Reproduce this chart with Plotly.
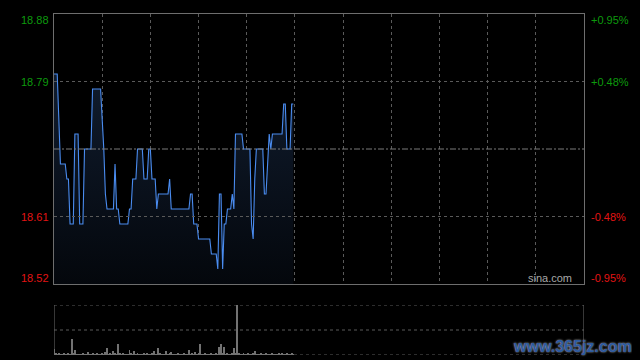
import plotly.graph_objects as go

# ---- data ----
prev_close = 18.70
minutes = list(range(150))  # minutes after 09:30
prices = [
    18.80, 18.80, 18.80, 18.74, 18.68, 18.68, 18.68, 18.68, 18.66, 18.66,
    18.60, 18.60, 18.60, 18.72, 18.72, 18.72, 18.60, 18.60, 18.60, 18.70,
    18.70, 18.70, 18.70, 18.70, 18.78, 18.78, 18.78, 18.78, 18.78, 18.78,
    18.74, 18.70, 18.64, 18.62, 18.62, 18.62, 18.62, 18.62, 18.68, 18.62,
    18.62, 18.60, 18.60, 18.60, 18.60, 18.60, 18.60, 18.62, 18.62, 18.66,
    18.66, 18.66, 18.70, 18.70, 18.70, 18.70, 18.66, 18.66, 18.66, 18.70,
    18.70, 18.66, 18.66, 18.66, 18.62, 18.64, 18.64, 18.64, 18.64, 18.64,
    18.64, 18.64, 18.66, 18.62, 18.62, 18.62, 18.62, 18.62, 18.62, 18.62,
    18.62, 18.62, 18.62, 18.62, 18.62, 18.64, 18.64, 18.60, 18.60, 18.60,
    18.58, 18.58, 18.58, 18.58, 18.58, 18.58, 18.58, 18.58, 18.56, 18.56,
    18.56, 18.56, 18.54, 18.64, 18.64, 18.54, 18.60, 18.60, 18.62, 18.62,
    18.62, 18.64, 18.62, 18.72, 18.72, 18.72, 18.72, 18.72, 18.70, 18.70,
    18.70, 18.70, 18.70, 18.60, 18.58, 18.66, 18.70, 18.70, 18.70, 18.70,
    18.70, 18.64, 18.64, 18.68, 18.72, 18.70, 18.72, 18.72, 18.72, 18.72,
    18.72, 18.72, 18.72, 18.76, 18.76, 18.70, 18.70, 18.70, 18.76, 18.76,
]
volumes = [
    57, 12, 10, 15, 10, 8, 12, 10, 10, 12,
    10, 164, 12, 50, 10, 10, 8, 10, 12, 10,
    10, 30, 10, 8, 12, 10, 10, 15, 10, 10,
    12, 10, 30, 67, 10, 12, 10, 40, 12, 10,
    110, 20, 10, 12, 10, 8, 10, 50, 12, 10,
    40, 10, 12, 10, 8, 10, 15, 10, 12, 10,
    10, 12, 40, 10, 10, 67, 12, 10, 10, 10,
    40, 10, 12, 30, 10, 8, 10, 12, 10, 10,
    10, 12, 10, 10, 50, 10, 12, 10, 30, 10,
    12, 110, 10, 10, 12, 10, 8, 10, 12, 10,
    10, 12, 10, 80, 110, 12, 80, 10, 12, 10,
    10, 12, 70, 15, 500, 12, 10, 10, 12, 10,
    10, 12, 10, 10, 12, 40, 10, 8, 10, 12,
    10, 10, 12, 10, 8, 10, 12, 10, 10, 10,
    20, 10, 12, 10, 10, 12, 10, 10, 20, 10,
]
price_ticks = [18.88, 18.79, 18.61, 18.52]
price_labels = ["18.88", "18.79", "18.61", "18.52"]
pct_labels = ["+0.95%", "+0.48%", "-0.48%", "-0.95%"]
session_minutes = 330
grid_minutes = [30, 60, 90, 120, 150, 180, 210, 240, 270, 300]
vol_max = 500

GREEN = "#0d9a0d"
RED = "#e31414"
FONT = "Liberation Sans, Arial, sans-serif"

fig = go.Figure()
fig.add_trace(go.Scatter(
    x=minutes, y=prices, mode="lines",
    line=dict(color="#4a8cf0", width=1.1),
    fill="tozeroy",
    fillgradient=dict(type="vertical", start=18.52, stop=18.80,
                      colorscale=[[0, "rgba(4,7,12,1)"], [1, "rgba(16,28,46,1)"]]),
    xaxis="x", yaxis="y", hoverinfo="skip", showlegend=False,
))
fig.add_trace(go.Bar(
    x=minutes, y=volumes, width=0.6, marker=dict(color="#727272", line=dict(width=0)),
    xaxis="x2", yaxis="y2", hoverinfo="skip", showlegend=False,
))

# page has an 8px body margin; figure sized so plot areas land on reference pixels
PLOT_H = 341
main_bottom = (355 - 284) / PLOT_H
vol_top = 50 / PLOT_H

fig.update_layout(
    width=632, height=352,
    margin=dict(l=46, r=56, t=6, b=5),
    paper_bgcolor="black", plot_bgcolor="black",
    xaxis=dict(domain=[0, 1], range=[0, session_minutes], anchor="y",
               tickvals=grid_minutes, showticklabels=False, ticks="",
               showgrid=True, griddash="dot", gridcolor="#5a5a5a", gridwidth=1,
               zeroline=False, showline=True, mirror=True, linecolor="#6e6e6e", linewidth=1),
    yaxis=dict(domain=[main_bottom, 1], range=[18.52, 18.88], anchor="x",
               showgrid=False, showticklabels=False, ticks="", zeroline=False,
               showline=True, mirror=True, linecolor="#6e6e6e", linewidth=1),
    xaxis2=dict(domain=[0, 1], range=[0, session_minutes], anchor="y2",
                showgrid=False, showticklabels=False, ticks="", zeroline=False, showline=False),
    yaxis2=dict(domain=[0, vol_top], range=[0, vol_max], anchor="x2",
                showgrid=False, showticklabels=False, ticks="", zeroline=False,
                showline=False),
    bargap=0,
)

shapes = []
for yv in [18.79, 18.61]:
    shapes.append(dict(type="line", xref="x", yref="y", x0=0, x1=session_minutes, y0=yv, y1=yv,
                       line=dict(color="#5a5a5a", width=1, dash="dot")))
shapes.append(dict(type="line", xref="x", yref="y", x0=0, x1=session_minutes, y0=prev_close, y1=prev_close,
                   line=dict(color="#7a7a7a", width=1, dash="6px,2px,2px,2px")))
for yv in [0, vol_max / 2, vol_max]:
    shapes.append(dict(type="line", xref="x2", yref="y2", x0=0, x1=session_minutes, y0=yv, y1=yv,
                       line=dict(color="#5a5a5a", width=1, dash="dot"), layer="below"))
for xv in [0, session_minutes]:
    shapes.append(dict(type="line", xref="x2", yref="y2", x0=xv, x1=xv, y0=0, y1=vol_max,
                       line=dict(color="#6e6e6e", width=1)))
fig.update_layout(shapes=shapes)

ann = []
shifts = [-6, 0, 0, 6]
for p, lab, pct, s in zip(price_ticks, price_labels, pct_labels, shifts):
    col = GREEN if p > prev_close else RED
    ann.append(dict(x=0, xref="x domain", y=p, yref="y", text=lab, showarrow=False,
                    xanchor="right", yanchor="middle", xshift=-3, yshift=s,
                    font=dict(family=FONT, size=11, color=col)))
    ann.append(dict(x=1, xref="x domain", y=p, yref="y", text=pct, showarrow=False,
                    xanchor="left", yanchor="middle", xshift=5, yshift=s,
                    font=dict(family=FONT, size=11, color=col)))
ann.append(dict(x=1, xref="x domain", y=18.52, yref="y", text="sina.com", showarrow=False,
                xanchor="right", yanchor="middle", xshift=-10, yshift=6,
                font=dict(family=FONT, size=11, color="#a8a8a8")))
ann.append(dict(x=1, xref="x domain", y=0.17, yref="y2 domain",
                text="www.365jz.com", showarrow=False, xanchor="right", yanchor="middle",
                xshift=50,
                font=dict(family=FONT, size=16, color="#2c5aa0", weight="bold",
                          shadow="0px 0px 2px #d0d0d0")))
fig.update_layout(annotations=ann)

fig.write_html("out.html", post_script="document.body.style.background='black';")
